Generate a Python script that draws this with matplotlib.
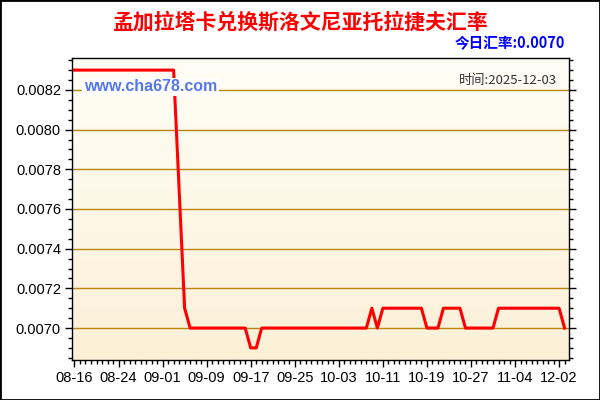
import numpy as np
import matplotlib
matplotlib.use('Agg')
import matplotlib.pyplot as plt
from matplotlib.patches import Rectangle
from matplotlib.ticker import MultipleLocator, FixedLocator
from matplotlib.colors import LinearSegmentedColormap

plt.rcParams['font.family'] = ['Liberation Sans', 'Noto Sans CJK SC', 'DejaVu Sans']

# daily rate, one value per data point (index based x axis)
rates = ([0.0083] * 19 + [0.0077, 0.0071] + [0.0070] * 11 + [0.0069, 0.0069]
         + [0.0070] * 20 + [0.0071, 0.0070] + [0.0071] * 8 + [0.0070] * 3
         + [0.0071] * 4 + [0.0070] * 6 + [0.0071] * 12 + [0.0070])
tick_labels = ['08-16', '08-24', '09-01', '09-09', '09-17', '09-25', '10-03',
               '10-11', '10-19', '10-27', '11-04', '12-02']
ytick_vals = [0.0070, 0.0072, 0.0074, 0.0076, 0.0078, 0.0080, 0.0082]
title = '孟加拉塔卡兑换斯洛文尼亚托拉捷夫汇率'
today_rate = '今日汇率:0.0070'
date_text = '时间:2025-12-03'
site = 'www.cha678.com'

x = np.arange(len(rates))

fig = plt.figure(figsize=(6, 4), dpi=100)
ax = fig.add_axes([72 / 600, 40 / 400, 497 / 600, 302 / 400])

# background gradient
grad = np.linspace(0, 1, 256).reshape(-1, 1)
cmap = LinearSegmentedColormap.from_list('bg', ['#fffef6', '#fcf0d8'])
ax.imshow(grad, aspect='auto', cmap=cmap, extent=[0, 1, 0, 1],
          transform=ax.transAxes, zorder=0)

ax.set_xlim(-0.45, 89.8)
ax.set_ylim(0.006839, 0.008361)

ax.yaxis.set_major_locator(FixedLocator(ytick_vals))
ax.yaxis.set_minor_locator(MultipleLocator(0.00005))
ax.set_yticklabels(['%.4f' % v for v in ytick_vals])
ax.grid(axis='y', which='major', color='#b8860b', linewidth=1, zorder=1)

ax.xaxis.set_major_locator(FixedLocator(np.arange(0, 90, 8)))
ax.set_xticklabels(tick_labels)
ax.xaxis.set_minor_locator(MultipleLocator(1))

ax.tick_params(axis='both', which='major', direction='out', length=5, width=1,
               labelsize=10.5, colors='black', pad=3)
ax.tick_params(axis='both', which='minor', direction='out', length=3, width=1)
ax.tick_params(axis='y', which='both', right=True)
for s in ax.spines.values():
    s.set_color('black')
    s.set_linewidth(1)

ax.plot(x, rates, color='#ff0000', linewidth=2.2, zorder=3)

ax.text(0.024, 0.905, site, transform=ax.transAxes, fontsize=11.5, fontweight='bold',
        color='#5577ee', va='center', ha='left',
        bbox=dict(facecolor='white', edgecolor='none', pad=1), zorder=4)
ax.text(0.977, 0.925, date_text, transform=ax.transAxes, fontsize=9.5,
        color='#333333', va='center', ha='right',
        family=['Noto Sans CJK SC', 'DejaVu Sans'], zorder=4)

fig.text(0.5, 0.945, title, ha='center', va='center', fontsize=15, fontweight='bold',
         color='#ff0000', family=['Noto Sans CJK SC', 'DejaVu Sans'])
fig.text(565 / 600, 1 - 43 / 400, today_rate, ha='right', va='center', fontsize=10.5,
         fontweight='bold', color='#0000ff', family=['Noto Sans CJK SC', 'DejaVu Sans'])

fig.patches.append(Rectangle((0, 0), 1, 1, transform=fig.transFigure, fill=False,
                             edgecolor='black', linewidth=2))

fig.savefig('out.png', dpi=100)
